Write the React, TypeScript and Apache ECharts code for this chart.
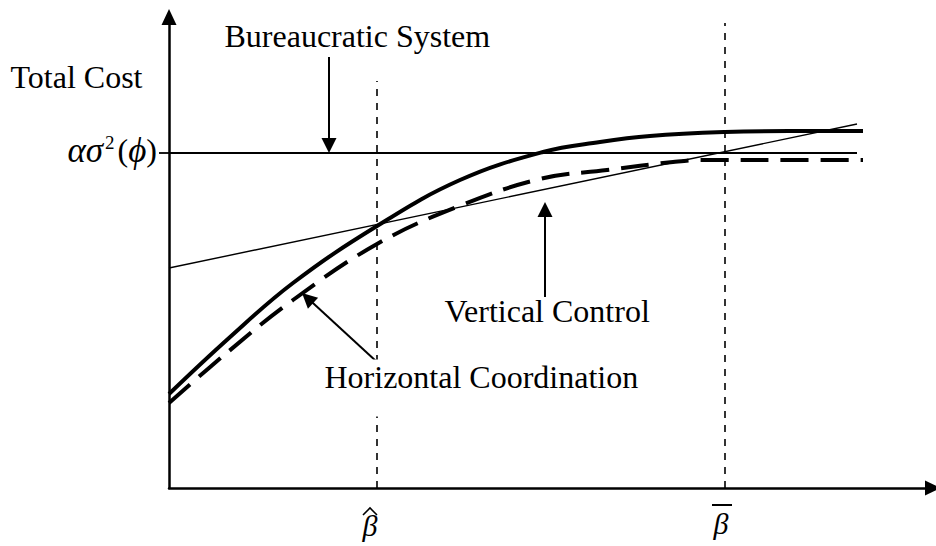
import React, { useEffect, useRef } from "react";
import * as echarts from "echarts";

const FONT = '"Liberation Serif", "Times New Roman", serif';

// Axis ranges (abstract units along each axis)
const X_MAX = 764;
const Y_MAX = 471;

// Reference values on the axes
const betaHat = 208;
const betaBar = 556;
const xTickValues = [betaHat, betaBar];
const xTickBase = "β";
const accentKinds = ["hat", "bar"];
const bureaucraticLevel = 335;
const yTickValues = [bureaucraticLevel];

// Curves
const solidX = [0, 60, 124, 208, 291, 374, 431, 481, 556, 620, 694];
const solidY = [94, 150, 205, 262, 308, 336, 346, 352, 356, 357, 357];
const dashedX = [0, 60, 124, 208, 288, 371, 438, 504, 531, 620, 694];
const dashedY = [85, 137, 188, 244, 281, 309, 318, 326, 328, 328, 328];
const verticalControlX = [0, 688];
const verticalControlY = [220, 364];
const bureaucraticX = [0, 688];
const bureaucraticY = [bureaucraticLevel, bureaucraticLevel];

// Guide line heights (top of the dashed verticals)
const guideTops = [407, 465];

// Annotation texts and their anchors (axis units)
const labelNames = ["Total Cost", "Bureaucratic System", "Vertical Control", "Horizontal Coordination"];
const labelX = [-158, 56, 276, 150];
const labelY = [427, 468, 193, 128];

// Annotation arrows
const arrowFromX = [160, 376, 208];
const arrowFromY = [431, 191, 126];
const arrowToX = [160, 376, 138.5];
const arrowToY = [342.5, 278.5, 189.9];

const zip = (xs: number[], ys: number[]) => xs.map((x, i) => [x, ys[i]]);

export default function App() {
  const ref = useRef<HTMLDivElement>(null);
  useEffect(() => {
    if (!ref.current) return;
    const chart = echarts.init(ref.current, undefined, { renderer: "svg" });
    const textBase = { fontFamily: FONT, fontSize: 32, lineHeight: 32, color: "#000" };
    chart.setOption({
      animation: false,
      backgroundColor: "#fff",
      grid: { left: 169, right: 3, top: 17, bottom: 58, containLabel: false },
      xAxis: {
        type: "value",
        min: 0,
        max: X_MAX,
        splitLine: { show: false },
        axisTick: { show: false },
        axisLine: {
          show: true,
          onZero: false,
          symbol: ["none", "triangle"],
          symbolSize: [15, 16],
          lineStyle: { color: "#000", width: 2.5 },
        },
        axisLabel: {
          customValues: xTickValues,
          margin: 20,
          formatter: (v: number) => (v === betaHat ? "{a|" + xTickBase + "}" : "{b|" + xTickBase + "}"),
          rich: {
            a: { fontFamily: FONT, fontSize: 30, lineHeight: 30, color: "#000", fontStyle: "italic", padding: [5, 14, 0, 0] },
            b: { fontFamily: FONT, fontSize: 30, lineHeight: 30, color: "#000", fontStyle: "italic", padding: [0, 8, 0, 0] },
          },
        },
      },
      yAxis: {
        type: "value",
        min: 0,
        max: Y_MAX,
        splitLine: { show: false },
        axisLine: {
          show: true,
          onZero: false,
          symbol: ["none", "triangle"],
          symbolSize: [15, 16],
          lineStyle: { color: "#000", width: 2.5 },
        },
        axisTick: {
          show: true,
          customValues: yTickValues,
          length: 10,
          lineStyle: { color: "#000", width: 1.8 },
        },
        axisLabel: {
          customValues: yTickValues,
          margin: 12,
          padding: [0, 0, 6, 0],
          formatter: () => "{g|ασ}{s|2}{n|(}{g|ϕ}{n|)}",
          rich: {
            g: { fontFamily: FONT, fontSize: 35, lineHeight: 34, color: "#000", fontStyle: "italic" },
            n: { fontFamily: FONT, fontSize: 32, lineHeight: 34, color: "#000" },
            s: { fontFamily: FONT, fontSize: 19, lineHeight: 16, verticalAlign: "top", color: "#000", padding: [0, 3, 0, 2] },
          },
        },
      },
      series: [
        {
          name: "Bureaucratic System",
          type: "line",
          data: zip(bureaucraticX, bureaucraticY),
          showSymbol: false,
          clip: false,
          lineStyle: { color: "#000", width: 1.8 },
          z: 2,
          markLine: {
            silent: true,
            symbol: ["none", "none"],
            label: { show: false },
            lineStyle: { color: "#000", width: 1.6, type: [7, 7] },
            data: xTickValues.map((v, i) => [{ coord: [v, 0] }, { coord: [v, guideTops[i]] }]),
          },
        },
        {
          name: "Vertical Control",
          type: "line",
          data: zip(verticalControlX, verticalControlY),
          showSymbol: false,
          clip: false,
          lineStyle: { color: "#000", width: 1.4 },
          z: 2,
        },
        {
          name: "Total",
          type: "line",
          data: zip(solidX, solidY),
          showSymbol: false,
          smooth: 0.4,
          clip: false,
          lineStyle: { color: "#000", width: 4 },
          z: 3,
        },
        {
          name: "Horizontal Coordination",
          type: "line",
          data: zip(dashedX, dashedY),
          showSymbol: false,
          smooth: 0.4,
          clip: false,
          lineStyle: { color: "#000", width: 4, type: [28, 12] },
          z: 3,
        },
        {
          name: "accents",
          type: "custom",
          silent: true,
          clip: false,
          data: xTickValues.map((v) => [v, 0]),
          renderItem: (params: any, api: any) => {
            const p = api.coord([api.value(0), 0]);
            const kind = accentKinds[params.dataIndex];
            if (kind === "hat") {
              return {
                type: "polyline",
                shape: { points: [[p[0] - 14, p[1] + 27], [p[0] - 7, p[1] + 20], [p[0], p[1] + 27]] },
                style: { stroke: "#000", lineWidth: 1.6, fill: null },
              };
            }
            return {
              type: "line",
              shape: { x1: p[0] - 13, y1: p[1] + 17, x2: p[0] + 7, y2: p[1] + 17 },
              style: { stroke: "#000", lineWidth: 2 },
            };
          },
          z: 4,
        },
        {
          name: "annotations",
          type: "scatter",
          symbolSize: 1,
          clip: false,
          silent: true,
          itemStyle: { color: "rgba(0,0,0,0)", opacity: 1 },
          z: 5,
          data: labelNames.map((n, i) => ({
            name: n,
            value: [labelX[i], labelY[i]],
            label:
              n === "Horizontal Coordination"
                ? { backgroundColor: "#fff", padding: [1, 6, 24, 6] }
                : undefined,
          })),
          label: {
            show: true,
            position: [0, 0],
            align: "left",
            verticalAlign: "top",
            formatter: "{b}",
            opacity: 1,
            ...textBase,
          },
          markLine: {
            silent: true,
            symbol: ["none", "triangle"],
            symbolSize: 15,
            label: { show: false },
            lineStyle: { color: "#000", width: 2, type: "solid" },
            data: arrowFromX.map((x, i) => [
              { coord: [x, arrowFromY[i]] },
              { coord: [arrowToX[i], arrowToY[i]] },
            ]),
          },
        },
      ],
    });
    return () => chart.dispose();
  }, []);
  return (
    <div
      ref={ref}
      style={{ position: "fixed", left: 0, top: 0, width: 936, height: 546, background: "#fff" }}
    />
  );
}
